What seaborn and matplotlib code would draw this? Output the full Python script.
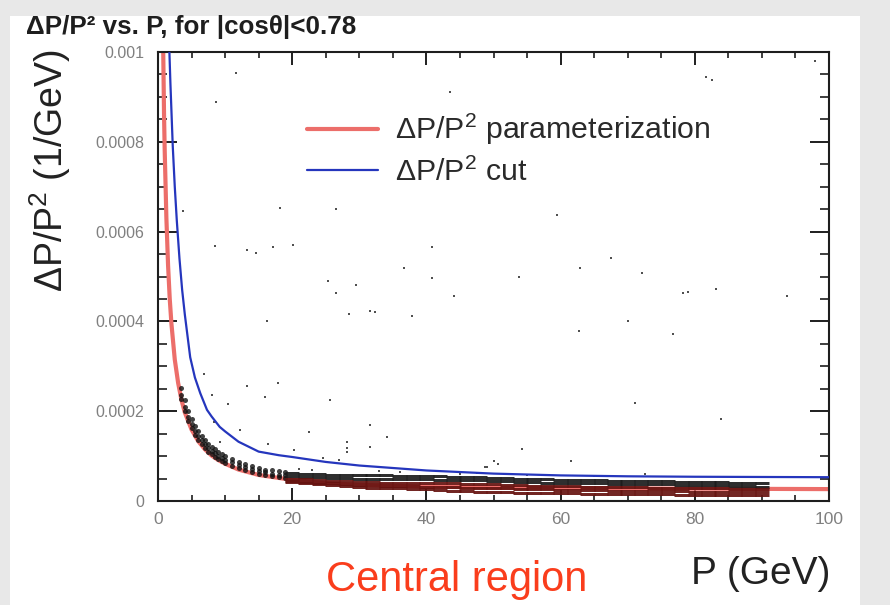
import numpy as np
import pandas as pd
import matplotlib
matplotlib.use("Agg")
import matplotlib.pyplot as plt
import seaborn as sns
from matplotlib.patches import Rectangle
from matplotlib.ticker import MultipleLocator

sns.set_theme(style="white")
plt.rcParams['font.family'] = ['Liberation Sans', 'DejaVu Sans']
plt.rcParams['mathtext.fontset'] = 'custom'
plt.rcParams['mathtext.rm'] = 'Liberation Sans'
plt.rcParams['mathtext.it'] = 'Liberation Sans:italic'
plt.rcParams['mathtext.bf'] = 'Liberation Sans:bold'

# ---------------- data (values in units of 1e-5 GeV^-1) ----------------
UNIT = 1e-5

# parameterization curve (red)
red_p = [0.78, 0.9, 1.0, 1.25, 1.5, 1.75, 2.0, 2.5, 3.0, 3.5, 4.0, 5.0, 6.0, 7.0, 8.0, 9.0,
         10, 12, 15, 20, 25, 30, 40, 50, 60, 70, 80, 90, 100]
red_v = [100, 86, 78, 63, 52.5, 45, 39.5, 31.5, 26.3, 22.5, 19.7, 15.9, 13.3, 11.5, 10.1, 9.1,
         8.3, 7.0, 5.8, 4.7, 4.0, 3.6, 3.2, 3.0, 2.9, 2.8, 2.75, 2.7, 2.65]

# cut curve (blue)
blue_p = [1.7, 1.85, 2.0, 2.2, 2.5, 2.8, 3.2, 3.6, 4.0, 4.8, 5.5, 6.3, 7.3, 8.0, 9.2, 10,
          12, 15, 18, 20, 25, 30, 40, 50, 60, 70, 80, 90, 100]
blue_v = [100, 93, 87, 79, 70, 62.5, 54, 47, 41.5, 32, 27.5, 24, 20.3, 18.8, 16.5, 15.5,
          13.2, 11.0, 10.2, 9.8, 8.7, 7.9, 6.8, 6.1, 5.7, 5.5, 5.4, 5.35, 5.3]

# dense track band, low momentum part
steep_p = [3.5, 4.0, 4.5, 5.0, 5.5, 6.0, 6.5, 7.0, 7.5, 8.0, 8.5, 9.0, 9.5, 10,
           11, 12, 13, 14, 15, 16, 17, 18, 19]
steep_top = [25.2, 22.4, 20.1, 18.3, 16.8, 15.6, 14.5, 13.6, 12.8, 12.1, 11.5, 11.0, 10.5, 10.0,
             9.3, 8.7, 8.2, 7.7, 7.3, 7.0, 6.8, 6.6, 6.4]
steep_mid = [23.7, 21.0, 18.8, 17.1, 15.7, 14.5, 13.5, 12.6, 11.8, 11.2, 10.6, 10.1, 9.6, 9.2,
             8.6, 8.0, 7.5, 7.1, 6.7, 6.4, 6.1, 5.9, 5.7]
steep_low = [22.8, 20.1, 17.9, 16.2, 14.8, 13.6, 12.6, 11.8, 11.0, 10.4, 9.8, 9.3, 8.9, 8.5,
             7.9, 7.3, 6.9, 6.5, 6.1, 5.8, 5.5, 5.3, 5.1]

# dense track band, high momentum part
flat_p = [20, 22, 24, 26, 28, 30, 32, 34, 36, 38, 40, 42, 44, 46, 48, 50, 52, 54,
          56, 58, 60, 62, 64, 66, 68, 70, 72, 74, 76, 78, 80, 82, 84, 86, 88, 90]
flat_top = [6.3, 6.1, 6.0, 5.9, 5.8, 5.8, 5.7, 5.7, 5.6, 5.6, 5.5, 5.5, 5.4, 5.4, 5.3, 5.2, 5.1, 5.0,
            4.9, 4.8, 4.7, 4.7, 4.6, 4.6, 4.5, 4.5, 4.5, 4.4, 4.4, 4.3, 4.3, 4.2, 4.2, 4.1, 4.0, 3.9]
flat_upper = [5.6, 5.4, 5.3, 5.2, 5.1, 5.0, 5.0, 4.9, 4.9, 4.8, 4.8, 4.7, 4.7, 4.6, 4.6, 4.5, 4.4, 4.3,
              4.2, 4.1, 4.0, 4.0, 3.9, 3.9, 3.8, 3.8, 3.8, 3.7, 3.7, 3.6, 3.6, 3.5, 3.5, 3.4, 3.3, 3.2]
flat_mid = [5.0, 4.8, 4.6, 4.5, 4.4, 4.3, 4.2, 4.1, 4.1, 4.0, 4.0, 3.9, 3.9, 3.8, 3.8, 3.7, 3.6, 3.5,
            3.4, 3.4, 3.3, 3.3, 3.2, 3.2, 3.1, 3.1, 3.1, 3.0, 3.0, 2.9, 2.9, 2.8, 2.8, 2.7, 2.7, 2.6]
flat_lower = [4.5, 4.3, 4.1, 3.9, 3.8, 3.6, 3.5, 3.4, 3.3, 3.3, 3.2, 3.1, 3.1, 3.0, 3.0, 2.9, 2.8, 2.7,
              2.6, 2.6, 2.5, 2.5, 2.4, 2.4, 2.3, 2.3, 2.3, 2.2, 2.2, 2.2, 2.1, 2.1, 2.1, 2.0, 2.0, 2.0]
flat_bottom = [4.2, 3.9, 3.7, 3.5, 3.3, 3.1, 3.0, 2.9, 2.8, 2.7, 2.6, 2.4, 2.3, 2.2, 2.1, 2.0, 1.9, 1.8,
               1.8, 1.8, 1.7, 1.7, 1.6, 1.6, 1.6, 1.5, 1.5, 1.5, 1.5, 1.4, 1.4, 1.4, 1.4, 1.4, 1.4, 1.4]

# scattered outlier tracks
out_p = [11.6, 43.5, 81.7, 82.5, 97.9, 8.7, 3.7, 18.2, 26.5, 59.5, 8.5, 13.2, 14.6, 17.1, 20.1,
         40.8, 36.7, 40.9, 53.8, 62.9, 67.5, 72.2, 25.4, 29.5, 26.5, 44.1, 78.3, 79.0, 83.2, 93.7,
         28.5, 31.6, 32.3, 37.8, 16.2, 70.1, 62.7, 76.8, 6.8, 13.2, 17.9, 16.0, 25.7, 71.1, 83.9,
         10.4, 8.0, 8.4, 31.6, 34.2, 22.5, 28.1, 28.1, 28.1, 31.6, 9.3, 12.2, 16.4, 20.2, 24.6,
         27.0, 49.0, 50.7, 54.2, 50.0, 61.6, 48.7, 21.0, 23.0, 33.0, 36.0, 45.0, 47.5, 55.0, 65.0, 72.6]
out_v = [95.3, 91.0, 94.4, 93.7, 98.1, 88.9, 64.5, 65.2, 65.0, 63.7, 56.8, 55.9, 55.3, 56.5, 57.1,
         56.5, 51.8, 49.6, 50.0, 51.8, 54.2, 50.8, 49.1, 48.1, 46.3, 45.7, 46.4, 46.5, 47.2, 45.7,
         41.6, 42.3, 42.1, 41.2, 40.1, 40.1, 37.9, 37.3, 28.3, 25.6, 26.2, 23.1, 22.5, 21.9, 18.2,
         21.6, 23.6, 17.6, 16.9, 14.3, 15.4, 13.2, 11.7, 11.0, 12.1, 13.2, 15.8, 12.8, 11.4, 9.5,
         9.1, 7.6, 8.3, 11.6, 9.0, 9.0, 7.5, 7.2, 6.9, 6.6, 6.4, 6.1, 6.3, 5.8, 5.5, 6.0]

x_ticks = [0, 20, 40, 60, 80, 100]
x_tick_labels = ["0", "20", "40", "60", "80", "100"]
y_ticks = [0, 0.0002, 0.0004, 0.0006, 0.0008, 0.001]
y_tick_labels = ["0", "0.0002", "0.0004", "0.0006", "0.0008", "0.001"]

# ---------------- tables ----------------
red_df = pd.DataFrame({"P": red_p, "v": np.array(red_v) * UNIT})
blue_df = pd.DataFrame({"P": blue_p, "v": np.array(blue_v) * UNIT})
steep_df = pd.DataFrame({
    "P": np.tile(steep_p, 3),
    "v": np.concatenate([steep_top, steep_mid, steep_low]) * UNIT,
})
n_flat = len(flat_p)
flat_df = pd.DataFrame({
    "P": np.tile(flat_p, 5),
    "v": np.concatenate([flat_top, flat_upper, flat_mid, flat_lower, flat_bottom]) * UNIT,
    "tone": ["black"] * (2 * n_flat) + ["dark"] * (3 * n_flat),
})
out_df = pd.DataFrame({"P": out_p, "v": np.array(out_v) * UNIT})

# ---------------- figure ----------------
W, H = 890, 605
fig = plt.figure(figsize=(W / 100, H / 100), dpi=100)
fig.patch.set_facecolor("#e8e8e8")
fig.patches.append(Rectangle((10 / W, 0), (860 - 10) / W, (H - 16) / H,
                             transform=fig.transFigure, facecolor="white",
                             edgecolor="none", zorder=-5))

ax = fig.add_axes([158 / W, (H - 501) / H, 671 / W, 449 / H])
ax.set_zorder(2)
ax.set_facecolor("white")

sns.lineplot(data=red_df, x="P", y="v", color="#ec6e6a", linewidth=3.0,
             estimator=None, sort=False, label="ΔP/P$^2$ parameterization", ax=ax, zorder=2)
sns.scatterplot(data=steep_df, x="P", y="v", color="#111111", marker="o", s=13,
                linewidth=0, alpha=0.8, legend=False, ax=ax, zorder=3)
sns.scatterplot(data=flat_df, x="P", y="v", hue="tone",
                palette={"black": "#1c1c1c", "dark": "#661310"},
                marker="_", s=110, linewidth=2.15, alpha=0.92, legend=False, ax=ax, zorder=3)
sns.scatterplot(data=out_df, x="P", y="v", color="#505050", marker="s", s=3.5,
                linewidth=0, legend=False, ax=ax, zorder=3)
sns.lineplot(data=blue_df, x="P", y="v", color="#2536bd", linewidth=1.6,
             estimator=None, sort=False, label="ΔP/P$^2$ cut", ax=ax, zorder=4)

ax.set_xlim(0, 100)
ax.set_ylim(0, 0.001)
ax.set_xticks(x_ticks)
ax.set_xticklabels(x_tick_labels)
ax.set_yticks(y_ticks)
ax.set_yticklabels(y_tick_labels)
ax.xaxis.set_minor_locator(MultipleLocator(5))
ax.yaxis.set_minor_locator(MultipleLocator(0.00005))
ax.set_xlabel("")
ax.set_ylabel("")

for sp in ax.spines.values():
    sp.set_visible(True)
    sp.set_color("#1e1e1e")
    sp.set_linewidth(1.5)

ax.tick_params(axis="x", which="major", direction="in", length=9.5, width=1.4,
               top=True, bottom=True, color="#1e1e1e", labelsize=12.5,
               labelcolor="#808080", pad=8)
ax.tick_params(axis="x", which="minor", direction="in", length=4.5, width=1.2,
               top=True, bottom=True, color="#1e1e1e")
ax.tick_params(axis="y", which="major", direction="in", length=13.5, width=1.4,
               left=True, right=True, color="#1e1e1e", labelsize=11.5,
               labelcolor="#808080", pad=10)
ax.tick_params(axis="y", which="minor", direction="in", length=6.5, width=1.2,
               left=True, right=True, color="#1e1e1e")

leg = ax.legend(loc="upper left", bbox_to_anchor=(0.222, 0.866), frameon=False,
                fontsize=21.8, handlelength=2.35, handletextpad=0.55,
                labelspacing=0.33, borderpad=0, borderaxespad=0)
for t in leg.get_texts():
    t.set_color("#2a2a2a")

fig.text(26 / W, (H - 34) / H, "ΔP/P² vs. P, for |cosθ|<0.78", fontsize=18.7,
         fontweight="bold", color="#1e1e1e", ha="left", va="baseline")
fig.text(50 / W, (H - 171) / H, "ΔP/P$^2$ (1/GeV)", fontsize=27, rotation=90,
         color="#222222", ha="center", va="center")
fig.text(830 / W, (H - 584) / H, "P (GeV)", fontsize=28, color="#222222",
         ha="right", va="baseline")
fig.text(326 / W, (H - 591) / H, "Central region", fontsize=30, color="#fa3d1c",
         ha="left", va="baseline")

fig.savefig("out.png", dpi=100, facecolor=fig.get_facecolor())
